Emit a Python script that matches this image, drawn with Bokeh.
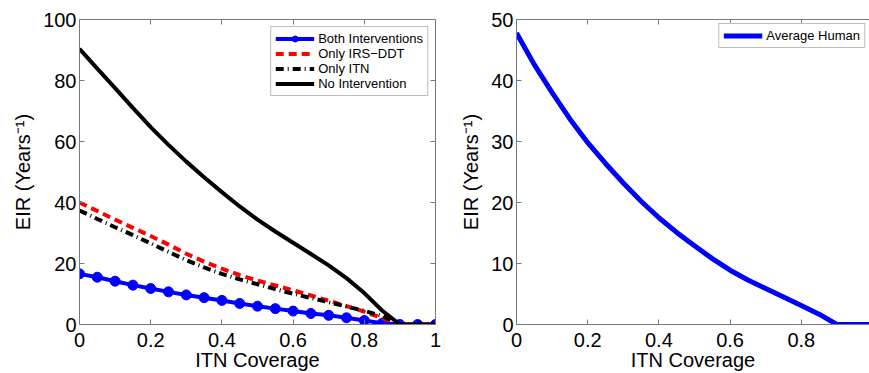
from bokeh.plotting import figure
from bokeh.models import (LinearAxis, FixedTicker, CustomJSTickFormatter, Legend,
                          LegendItem, Range1d)
from bokeh.layouts import row
from bokeh.embed import file_html
from bokeh.resources import INLINE

# ---------------- data ----------------
coverage = [0.0, 0.05, 0.10, 0.15, 0.20, 0.25, 0.30, 0.35, 0.40, 0.45, 0.50,
            0.55, 0.60, 0.65, 0.70, 0.75, 0.80, 0.85, 0.90, 0.95, 1.0]
both_interventions = [16.6, 15.5, 14.2, 12.9, 11.8, 10.7, 9.7, 8.8, 7.9, 6.9, 6.0,
                      5.2, 4.4, 3.6, 3.0, 2.2, 1.3, 0.4, 0.0, 0.0, 0.0]
only_irs_ddt = [40.0, 37.2, 34.4, 31.7, 29.0, 26.2, 23.2, 20.6, 18.3, 16.2, 14.4,
                12.8, 11.2, 9.5, 7.8, 6.0, 4.2, 2.1, 0.0, 0.0, 0.0]
only_itn = [37.4, 34.6, 31.9, 29.3, 26.6, 23.8, 21.1, 18.7, 16.6, 14.8, 13.2,
            11.6, 10.1, 8.7, 7.3, 5.9, 4.5, 2.8, 0.0, 0.0, 0.0]
no_intervention = [90.4, 83.9, 77.5, 71.0, 64.7, 58.9, 53.4, 48.3, 43.4, 38.7, 34.4,
                   30.5, 26.8, 23.1, 19.4, 15.2, 10.3, 4.6, 0.0, 0.0, 0.0]
average_human = [47.8, 42.6, 38.0, 33.7, 29.8, 26.4, 23.2, 20.2, 17.5, 15.1, 12.9,
                 10.8, 8.9, 7.3, 5.9, 4.5, 3.1, 1.7, 0.0, 0.0, 0.0]

x_ticks = [0, 0.2, 0.4, 0.6, 0.8, 1.0]
left_y_ticks = [0, 20, 40, 60, 80, 100]
right_y_ticks = [0, 10, 20, 30, 40, 50]

FONT = "Liberation Sans"
AX_COLOR = "#7a7a7a"
fmt = CustomJSTickFormatter(code="return String(Math.round(tick*10)/10);")


def style_axis(ax, ticks, labels=True):
    ax.ticker = FixedTicker(ticks=ticks)
    ax.axis_line_color = AX_COLOR
    ax.axis_line_width = 1
    ax.major_tick_line_color = AX_COLOR
    ax.major_tick_in = 5
    ax.major_tick_out = 0
    ax.minor_tick_line_color = None
    if labels:
        ax.formatter = fmt
        ax.major_label_text_font = FONT
        ax.major_label_text_font_size = "20px"
        ax.major_label_text_color = "black"
        ax.axis_label_text_font = FONT
        ax.axis_label_text_font_size = "20px"
        ax.axis_label_text_font_style = "normal"
        ax.axis_label_text_color = "black"
    else:
        ax.major_label_text_font_size = "1px"
        ax.major_label_text_color = None
        ax.major_label_standoff = 0
        ax.axis_label = None


def make_fig(width, yr, xr, ml, mr, yticks, right_axis):
    p = figure(width=width, height=373, x_range=xr, y_range=yr,
               output_backend="svg", toolbar_location=None,
               min_border_left=ml, min_border_right=mr,
               min_border_top=19, min_border_bottom=49)
    p.outline_line_color = None
    p.xgrid.visible = False
    p.ygrid.visible = False
    style_axis(p.xaxis[0], x_ticks)
    style_axis(p.yaxis[0], yticks)
    p.xaxis[0].axis_label = "ITN Coverage"
    p.yaxis[0].axis_label = "EIR (Years⁻¹)"
    p.xaxis[0].major_label_standoff = 8
    p.xaxis[0].axis_label_standoff = -1
    p.yaxis[0].major_label_standoff = 3
    p.yaxis[0].axis_label_standoff = 6
    top = LinearAxis()
    style_axis(top, x_ticks, labels=False)
    p.add_layout(top, "above")
    if right_axis:
        r = LinearAxis()
        style_axis(r, yticks, labels=False)
        p.add_layout(r, "right")
    return p


# ---------------- left panel ----------------
p1 = make_fig(445, Range1d(0, 100), Range1d(0, 1), 79, 10, left_y_ticks, True)
b_line = p1.line(coverage, both_interventions, color="blue", line_width=4)
b_pts = p1.scatter(coverage, both_interventions, color="blue", size=10)
r_line = p1.line(coverage, only_irs_ddt, color="red", line_width=4, line_dash="8 5")
i_line = p1.line(coverage, only_itn, color="black", line_width=4, line_dash="8 4 1 4")
n_line = p1.line(coverage, no_intervention, color="black", line_width=4)

leg1 = Legend(items=[
    LegendItem(label="Both Interventions", renderers=[b_line, b_pts]),
    LegendItem(label="Only IRS\u2212DDT", renderers=[r_line]),
    LegendItem(label="Only ITN", renderers=[i_line]),
    LegendItem(label="No Intervention", renderers=[n_line]),
], location="top_right")

# ---------------- right panel ----------------
p2 = make_fig(424, Range1d(0, 50), Range1d(0, 0.9916), 71, 0, right_y_ticks, False)
a_line = p2.line(coverage, average_human, color="blue", line_width=5)
leg2 = Legend(items=[LegendItem(label="Average Human", renderers=[a_line])],
              location="top_right")

for p, lg, m in [(p1, leg1, 7), (p2, leg2, 4)]:
    lg.margin = m
    lg.padding = 4
    lg.spacing = 0
    lg.glyph_width = 39
    lg.glyph_height = 15
    lg.label_height = 15
    lg.label_standoff = 4
    lg.label_text_font = FONT
    lg.label_text_font_size = "13px"
    lg.label_text_color = "black"
    lg.border_line_color = AX_COLOR
    lg.border_line_width = 1
    lg.background_fill_alpha = 1
    p.add_layout(lg, "center")

layout = row(p1, p2)
open("out.html", "w").write(file_html(layout, INLINE))
